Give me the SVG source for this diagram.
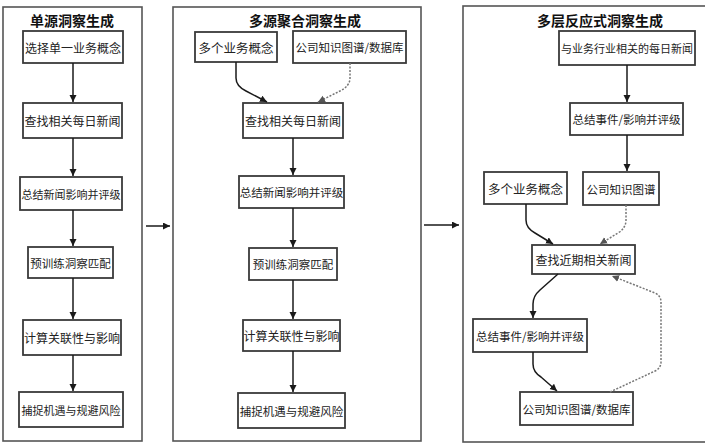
<svg xmlns="http://www.w3.org/2000/svg" width="705" height="444" viewBox="0 0 705 444">
<defs>
<marker id="ah" markerUnits="userSpaceOnUse" markerWidth="8" markerHeight="8" refX="7" refY="3.5" orient="auto">
<path d="M0,0 L7,3.5 L0,7 z" fill="#1a1a1a"/>
</marker>
<marker id="ahg" markerUnits="userSpaceOnUse" markerWidth="8" markerHeight="8" refX="7" refY="3.5" orient="auto">
<path d="M0,0 L7,3.5 L0,7 z" fill="#555"/>
</marker>
</defs>
<style>
.panel{fill:#fff;stroke:#555;stroke-width:1.6}
.box{fill:#fff;stroke:#3a3a3a;stroke-width:1.8}
.t{font-family:"Noto Sans CJK SC","Noto Sans",sans-serif;fill:#222;text-anchor:middle;dominant-baseline:central}
.title{font-family:"Noto Sans CJK SC","Noto Sans",sans-serif;fill:#111;text-anchor:middle;dominant-baseline:central;font-size:14px;font-weight:bold}
.ln{fill:none;stroke:#1a1a1a;stroke-width:1.5;marker-end:url(#ah)}
.dt{fill:none;stroke:#777;stroke-width:1.5;stroke-dasharray:2 1.5;marker-end:url(#ahg)}
</style>
<rect width="705" height="444" fill="#fff"/>
<g id="panel-left">
<rect class="panel" x="3" y="7" width="139" height="434"/>
<text class="title" x="72" y="20">单源洞察生成</text>
</g>
<g id="panel-mid">
<rect class="panel" x="173" y="7" width="248" height="434"/>
<text class="title" x="305" y="20">多源聚合洞察生成</text>
</g>
<g id="panel-right">
<rect class="panel" x="463" y="6" width="260" height="436"/>
<text class="title" x="600" y="20">多层反应式洞察生成</text>
</g>

<g id="L1"><rect class="box" x="23" y="31" width="100" height="32"/><text class="t" x="73" y="47" font-size="12">选择单一业务概念</text></g>
<g id="L2"><rect class="box" x="23" y="103" width="99" height="35"/><text class="t" x="72.5" y="120.5" font-size="12">查找相关每日新闻</text></g>
<g id="L3"><rect class="box" x="20" y="177" width="102" height="33"/><text class="t" x="71" y="193.5" font-size="11">总结新闻影响并评级</text></g>
<g id="L4"><rect class="box" x="28" y="247" width="85" height="31"/><text class="t" x="70.5" y="262.5" font-size="11.5">预训练洞察匹配</text></g>
<g id="L5"><rect class="box" x="23" y="320" width="98" height="35"/><text class="t" x="72" y="337.5" font-size="12">计算关联性与影响</text></g>
<g id="L6"><rect class="box" x="19" y="392" width="104" height="35"/><text class="t" x="71" y="409.5" font-size="11">捕捉机遇与规避风险</text></g>

<g id="M1"><rect class="box" x="195" y="32" width="82" height="30"/><text class="t" x="236" y="47" font-size="12.5">多个业务概念</text></g>
<g id="M2"><rect class="box" x="293" y="31" width="113" height="32"/><text class="t" x="349.5" y="47" font-size="11.5">公司知识图谱/数据库</text></g>
<g id="M3"><rect class="box" x="243" y="103" width="100" height="35"/><text class="t" x="293" y="120.5" font-size="12">查找相关每日新闻</text></g>
<g id="M4"><rect class="box" x="239" y="176" width="105" height="32"/><text class="t" x="291.5" y="192" font-size="11.5">总结新闻影响并评级</text></g>
<g id="M5"><rect class="box" x="249" y="248" width="88" height="32"/><text class="t" x="293" y="264" font-size="11.5">预训练洞察匹配</text></g>
<g id="M6"><rect class="box" x="243" y="320" width="97" height="31"/><text class="t" x="291.5" y="335.5" font-size="12">计算关联性与影响</text></g>
<g id="M7"><rect class="box" x="238" y="393" width="107" height="35"/><text class="t" x="291.5" y="410.5" font-size="11.5">捕捉机遇与规避风险</text></g>

<g id="R1"><rect class="box" x="559" y="31" width="136" height="34"/><text class="t" x="627" y="48" font-size="11">与业务行业相关的每日新闻</text></g>
<g id="R2"><rect class="box" x="570" y="103" width="113" height="32"/><text class="t" x="626.5" y="119" font-size="11.5">总结事件/影响并评级</text></g>
<g id="R3"><rect class="box" x="484" y="172" width="83" height="32"/><text class="t" x="525.5" y="188" font-size="12.5">多个业务概念</text></g>
<g id="R4"><rect class="box" x="583" y="172" width="76" height="33"/><text class="t" x="621" y="188.5" font-size="11.5">公司知识图谱</text></g>
<g id="R5"><rect class="box" x="532" y="245" width="103" height="29"/><text class="t" x="583.5" y="259.5" font-size="12">查找近期相关新闻</text></g>
<g id="R6"><rect class="box" x="473" y="319" width="114" height="33"/><text class="t" x="530" y="335.5" font-size="11.5">总结事件/影响并评级</text></g>
<g id="R7"><rect class="box" x="520" y="392" width="113" height="33"/><text class="t" x="576.5" y="408.5" font-size="11.5">公司知识图谱/数据库</text></g>

<g id="connectors">
<path class="ln" d="M73,63 V102"/>
<path class="ln" d="M73,138 V176"/>
<path class="ln" d="M73,210 V246"/>
<path class="ln" d="M73,278 V319"/>
<path class="ln" d="M73,355 V391"/>

<path class="ln" d="M146,226 H170"/>
<path class="ln" d="M424,225 H459"/>

<path class="ln" d="M236,62 V78 Q236,86 246,91 L267,102"/>
<path class="dt" d="M350,63 V78 Q350,86 340,91 L318,102"/>
<path class="ln" d="M293,138 V175"/>
<path class="ln" d="M293,208 V247"/>
<path class="ln" d="M293,280 V319"/>
<path class="ln" d="M293,351 V392"/>

<path class="ln" d="M627,65 V102"/>
<path class="ln" d="M627,135 V171"/>
<path class="ln" d="M526,204 V220 Q526,228 535,233 L553,244"/>
<path class="dt" d="M626,205 V220 Q626,228 618,233 L600,244"/>
<path class="ln" d="M558,274 L540,290 Q533,296 533,304 V318"/>
<path class="ln" d="M533,352 V364 Q533,372 541,377 L557,391"/>
<path class="dt" d="M610,392 L655,371 Q661,368 661,362 V302 Q661,296 655,293 L612,276"/>
</g>
</svg>
